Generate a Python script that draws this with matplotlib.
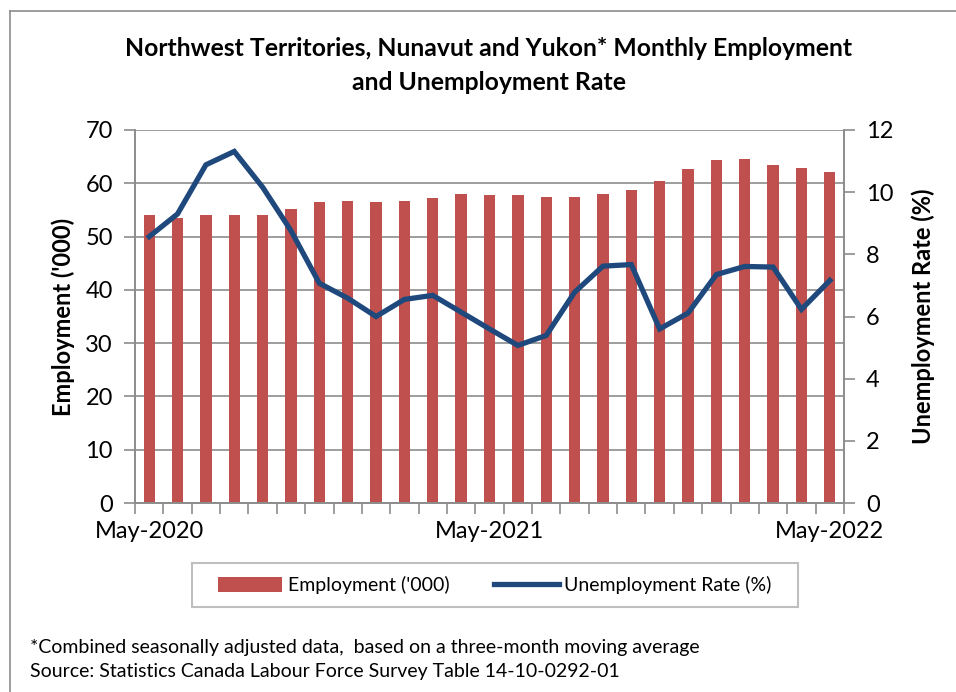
import matplotlib
matplotlib.use("Agg")
import matplotlib.pyplot as plt
from matplotlib.lines import Line2D
from matplotlib.patches import Rectangle
import numpy as np

plt.rcParams['font.family'] = ['Lato', 'DejaVu Sans']

months = ["May-2020", "Jun-2020", "Jul-2020", "Aug-2020", "Sep-2020", "Oct-2020",
          "Nov-2020", "Dec-2020", "Jan-2021", "Feb-2021", "Mar-2021", "Apr-2021",
          "May-2021", "Jun-2021", "Jul-2021", "Aug-2021", "Sep-2021", "Oct-2021",
          "Nov-2021", "Dec-2021", "Jan-2022", "Feb-2022", "Mar-2022", "Apr-2022",
          "May-2022"]
employment = [54.1, 53.4, 54.0, 54.0, 54.0, 55.2, 56.4, 56.7, 56.4, 56.75, 57.25, 57.9,
              57.75, 57.75, 57.5, 57.5, 58.0, 58.8, 60.4, 62.75, 64.4, 64.6, 63.4, 62.9,
              62.2]
unemployment = [8.57, 9.30, 10.88, 11.31, 10.16, 8.76, 7.07, 6.59, 6.0, 6.55, 6.68, 6.14,
                5.6, 5.07, 5.39, 6.78, 7.62, 7.67, 5.60, 6.11, 7.35, 7.61, 7.59, 6.23,
                7.16]
label_idx = [0, 12, 24]

bar_color = "#C0504D"
line_color = "#1F497D"
grid_color = "#8C8C8C"

W, H = 956, 692
fig = plt.figure(figsize=(W / 100, H / 100), dpi=100)
ax = fig.add_axes([135 / W, 1 - 503 / H, (844 - 135) / W, (503 - 130) / H])
ax2 = ax.twinx()

x = np.arange(len(months))
ax.bar(x, employment, width=0.4, color=bar_color, zorder=2, label="Employment ('000)")
ax2.plot(x, unemployment, color=line_color, lw=3.8, solid_joinstyle='miter',
         zorder=3, label="Unemployment Rate (%)")

ax.set_xlim(-0.5, len(months) - 0.5)
ax.set_ylim(0, 70)
ax.set_yticks(np.arange(0, 71, 10))
ax2.set_ylim(0, 12)
ax2.set_yticks(np.arange(0, 13, 2))

ax.yaxis.grid(True, color=grid_color, lw=1.2, zorder=0)
ax.set_axisbelow(True)

ax.set_xticks(np.arange(-0.5, len(months), 1.0))
ax.set_xticklabels([])
ax.set_xticks(label_idx, minor=True)
ax.set_xticklabels([months[i] for i in label_idx], minor=True)
ax.tick_params(axis='x', which='major', length=8, width=1.2, color=grid_color, direction='out')
ax.tick_params(axis='x', which='minor', length=0, pad=13, labelsize=17)
ax.tick_params(axis='y', length=8, width=1.2, color=grid_color, labelsize=17, pad=8)
ax2.tick_params(axis='y', length=8, width=1.2, color=grid_color, labelsize=17, pad=8)

for a in (ax, ax2):
    for s in a.spines.values():
        s.set_color(grid_color)
        s.set_linewidth(1.2)
ax.spines['top'].set_visible(False)
ax2.spines['top'].set_visible(False)

ax.set_ylabel("Employment ('000)", fontsize=17, fontweight='bold', labelpad=7)
ax2.set_ylabel("Unemployment Rate (%)", fontsize=17, fontweight='bold', labelpad=13,
               rotation=90)

fig.text(489 / W, 1 - 48 / H, "Northwest Territories, Nunavut and Yukon* Monthly Employment",
         ha='center', va='center', fontsize=17.8, fontweight='bold')
fig.text(489 / W, 1 - 82 / H, "and Unemployment Rate",
         ha='center', va='center', fontsize=17.8, fontweight='bold')

# legend frame drawn manually
fig.add_artist(Rectangle((192 / W, 1 - 607 / H), (798 - 192) / W, 44 / H,
                         transform=fig.transFigure, fill=False, edgecolor="#BFBFBF", lw=1.5))
h1, l1 = ax.get_legend_handles_labels()
h2, l2 = ax2.get_legend_handles_labels()
leg = fig.legend(h1 + h2, l1 + l2, loc='center',
                 bbox_to_anchor=(495 / W, 1 - 585 / H), ncol=2, fontsize=14,
                 frameon=False, handlelength=3.3, handleheight=0.8, columnspacing=2.3,
                 handletextpad=0.3)

fig.text(30 / W, 1 - 648 / H, "*Combined seasonally adjusted data,  based on a three-month moving average",
         ha='left', va='center', fontsize=14)
fig.text(30 / W, 1 - 672 / H, "Source: Statistics Canada Labour Force Survey Table 14-10-0292-01",
         ha='left', va='center', fontsize=14)

# outer border
fig.add_artist(Line2D([10 / W, 10 / W], [0, 1 - 11 / H], transform=fig.transFigure,
                      color="#8C8C8C", lw=1.2))
fig.add_artist(Line2D([10 / W, 1], [1 - 11 / H, 1 - 11 / H], transform=fig.transFigure,
                      color="#8C8C8C", lw=1.2))

fig.savefig("out.png", dpi=100)
